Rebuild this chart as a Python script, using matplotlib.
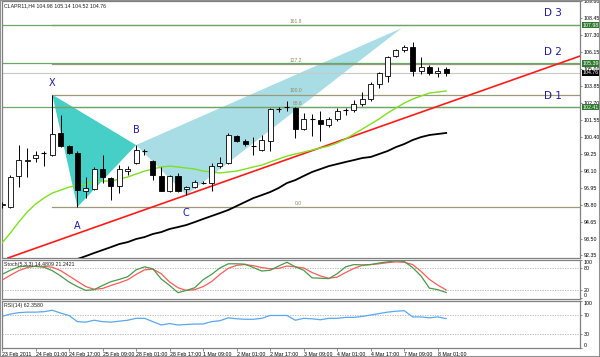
import matplotlib.pyplot as plt
from matplotlib.patches import Rectangle, Polygon

plt.rcParams['font.family'] = ['Liberation Sans Narrow', 'Liberation Sans', 'DejaVu Sans']

# H4 candles, bar 0 .. 53
opens = [95.78, 95.64, 97.75, 98.76, 98.97, 99.28, 99.17, 100.67, 99.78, 99.31,
         96.73, 96.86, 98.22, 97.61, 97.07, 98.08, 98.63, 99.44, 98.76, 97.75,
         96.73, 97.75, 96.86, 97.00, 97.31, 97.27, 98.42, 98.63, 100.46, 100.12,
         99.81, 99.51, 100.12, 102.30, 102.43, 102.36, 100.94, 101.62, 101.55, 101.21,
         101.62, 102.20, 102.23, 102.63, 102.97, 103.99, 104.53, 105.89, 106.30, 106.51,
         104.87, 105.15, 104.74, 104.98]
highs = [95.98, 97.81, 99.85, 99.65, 99.44, 99.44, 103.27, 101.89, 99.85, 99.44,
         97.68, 98.36, 99.17, 97.68, 98.49, 98.42, 99.85, 99.58, 98.83, 98.36,
         97.81, 97.95, 97.07, 97.47, 97.40, 98.63, 99.04, 100.67, 100.53, 100.26,
         100.39, 100.53, 102.36, 102.43, 102.84, 102.43, 102.02, 101.95, 102.16, 101.75,
         102.36, 102.36, 102.91, 103.45, 104.13, 104.81, 105.89, 106.37, 106.64, 106.84,
         105.82, 105.28, 105.15, 105.14]
lows = [95.57, 95.57, 97.00, 97.68, 98.70, 98.42, 99.10, 99.71, 99.24, 95.64,
        96.25, 96.80, 97.27, 96.12, 96.59, 97.81, 98.56, 99.17, 97.47, 96.73,
        96.66, 96.66, 96.46, 96.93, 97.20, 96.73, 98.29, 98.56, 100.05, 99.78,
        99.17, 99.44, 99.44, 102.09, 102.16, 100.32, 100.87, 100.46, 100.12, 101.07,
        101.48, 101.89, 102.09, 102.50, 102.84, 103.72, 104.13, 105.82, 106.17, 104.53,
        104.67, 104.60, 104.47, 104.52]
closes = [95.85, 97.68, 98.83, 98.83, 99.17, 99.31, 100.60, 99.78, 99.31, 96.80,
          96.93, 98.22, 97.68, 97.07, 98.22, 98.22, 99.51, 99.42, 97.81, 96.73,
          97.75, 96.73, 97.00, 97.34, 97.27, 98.42, 98.63, 100.53, 100.12, 99.92,
          99.78, 100.19, 102.30, 102.33, 102.45, 100.94, 101.62, 101.64, 101.28, 101.62,
          102.16, 102.24, 102.63, 102.97, 103.99, 104.74, 105.82, 106.30, 106.51, 104.87,
          105.15, 104.74, 104.87, 104.76]

# moving averages
ma_fast = [93.20, 93.88, 94.62, 95.30, 95.84, 96.25, 96.59, 96.79, 96.99, 97.13,
           97.19, 97.34, 97.40, 97.40, 97.54, 97.68, 97.88, 98.08, 98.22, 98.36,
           98.42, 98.36, 98.29, 98.22, 98.08, 98.02, 97.95, 98.02, 98.08, 98.22,
           98.36, 98.49, 98.70, 98.90, 99.10, 99.24, 99.37, 99.51, 99.65, 99.78,
           99.99, 100.26, 100.60, 100.94, 101.28, 101.62, 102.02, 102.36, 102.70, 102.97,
           103.18, 103.38, 103.45, 103.52]
ma_slow_start = 8
ma_slow = [91.91, 92.11, 92.31, 92.52, 92.72, 92.92, 93.13, 93.26, 93.47, 93.60,
           93.81, 93.94, 94.15, 94.28, 94.42, 94.62, 94.83, 95.03, 95.23, 95.44,
           95.71, 95.98, 96.25, 96.45, 96.66, 96.93, 97.27, 97.47, 97.75, 98.02,
           98.22, 98.42, 98.56, 98.70, 98.83, 98.97, 99.04, 99.24, 99.44, 99.71,
           99.92, 100.19, 100.39, 100.53, 100.60, 100.67]

# Stochastic (5,3,3) main / signal, RSI(14)
stoch_main = [62, 73, 82, 84, 83, 81, 72, 58, 42, 30, 20, 22, 33, 43, 49, 56, 74, 82,
              77, 50, 33, 14, 20, 27, 48, 62, 79, 90, 90, 89, 80, 71, 73, 84, 94, 82,
              73, 53, 52, 51, 64, 82, 88, 87, 88, 92, 95, 98, 96, 80, 58, 26, 22, 14.48]
stoch_signal = [47, 60, 72, 80, 84, 83, 81, 72, 58, 44, 30, 23, 25, 33, 40, 48, 62, 74,
                76, 64, 42, 27, 20, 22, 30, 43, 62, 78, 86, 88, 85, 80, 77, 78, 84, 82,
                79, 67, 58, 52, 55, 67, 78, 86, 88, 90, 93, 95, 94, 88, 70, 49, 34, 21.24]
rsi = [67, 72, 75, 76, 76, 77, 80, 74, 69, 56, 55, 59, 56, 55, 57, 59, 63, 63,
       56, 49, 52, 49, 50, 51, 51, 56, 58, 64, 62, 61, 61, 63, 69, 69, 69, 59,
       63, 62, 60, 63, 63, 65, 65, 67, 70, 73, 76, 78, 79, 66, 66, 64, 66, 62.36]

date_labels = ['23 Feb 2011', '24 Feb 01:00', '24 Feb 17:00', '25 Feb 09:00',
               '28 Feb 01:00', '28 Feb 17:00', '1 Mar 09:00', '2 Mar 01:00',
               '2 Mar 17:00', '3 Mar 09:00', '4 Mar 01:00', '4 Mar 17:00',
               '7 Mar 09:00', '8 Mar 01:00']
price_ticks = [109.60, 108.45, 107.30, 106.15, 105.00, 103.85, 102.70, 101.55,
               100.40, 99.25, 98.10, 96.95, 95.80, 94.65, 93.50, 92.35]

# harmonic pattern points (bar, price)
pat_names = ['X', 'A', 'B', 'C', 'D']
pat_bars = [6, 9, 16, 22, 47.7]
pat_prices = [103.27, 95.64, 99.85, 96.45, 107.79]
fib_ratios = [0.0, 88.6, 100.0, 127.2, 161.8]
target_levels = [107.98, 105.39, 102.41]
target_names = ['D 3', 'D 2', 'D 1']
trend_bars = [33.17, 68.97]
trend_prices = [98.70, 105.89]
last_price = 104.76

W, H = 600, 357
fig = plt.figure(figsize=(6, 3.57), dpi=100)


def px_axes(x0, y0, x1, y1):
    return fig.add_axes([x0 / W, 1 - y1 / H, (x1 - x0) / W, (y1 - y0) / H])


ax = px_axes(2, 1, 580, 258)
ax_st = px_axes(2, 259.5, 580, 298.5)
ax_rsi = px_axes(2, 300.75, 580, 348.25)

xmax = 68.97
fs = 3.8
grid_col = '#808080'
for a in (ax, ax_st, ax_rsi):
    a.set_xlim(0, xmax)
    for s in a.spines.values():
        s.set_color(grid_col)
        s.set_linewidth(0.9)
    a.yaxis.tick_right()
    a.tick_params(axis='y', labelsize=fs, length=1.6, width=0.5, color='#606060', pad=0.8)
    a.set_xticks([])

# ---- main chart ----
ax.set_ylim(92.18, 109.63)
ax.set_yticks(price_ticks)
ax.set_yticklabels(['%.2f' % v for v in price_ticks])

# harmonic triangles
xab = list(zip(pat_bars[:3], pat_prices[:3]))
bcd = list(zip(pat_bars[2:], pat_prices[2:]))
ax.add_patch(Polygon(xab, closed=True, facecolor='#45cfc6', edgecolor='none', zorder=1))
ax.add_patch(Polygon(bcd, closed=True, facecolor='#a9dde6', edgecolor='none', zorder=1))

# fibonacci levels (from X to the right)
xa = pat_prices[0] - pat_prices[1]
for r in fib_ratios:
    lvl = pat_prices[1] + r / 100 * xa
    ax.plot([pat_bars[0], xmax], [lvl, lvl], color='#9a9a7a', lw=0.9, zorder=2)
    ax.text(35.8, lvl + 0.08, '%.1f' % r, fontsize=3.6, color='#8a8a60',
            ha='right', va='bottom', zorder=3)

# target horizontal lines
for lvl in target_levels:
    ax.axhline(lvl, color='#6aa86a', lw=0.9, zorder=2)
ax.axhline(last_price, color='#c8c8c8', lw=0.8, zorder=2)

# trend line and moving averages
ax.axline((trend_bars[0], trend_prices[0]), (trend_bars[1], trend_prices[1]),
          color='#ff1a1a', lw=1.2, zorder=3)
ax.plot(range(len(ma_fast)), ma_fast, color='#7ee01e', lw=1.0, zorder=3)
ax.plot(range(ma_slow_start, ma_slow_start + len(ma_slow)), ma_slow,
        color='black', lw=1.3, zorder=3)

# candles
bw = 0.6
for i, (o, h, l, c) in enumerate(zip(opens, highs, lows, closes)):
    ax.vlines(i, l, h, color='black', lw=0.7, zorder=4)
    body = abs(c - o)
    if body < 0.05:
        ax.hlines((o + c) / 2, i - bw / 2, i + bw / 2, color='black', lw=0.8, zorder=5)
    else:
        ax.add_patch(Rectangle((i - bw / 2, min(o, c)), bw, body,
                               facecolor='white' if c > o else 'black',
                               edgecolor='black', lw=0.6, zorder=5))

# pattern point labels
offs = {'X': (0, 5), 'A': (0, -10), 'B': (0, 7), 'C': (0, -9)}
for name, b, p in zip(pat_names, pat_bars, pat_prices):
    if name in offs:
        ax.annotate(name, (b, p), xytext=offs[name], textcoords='offset points',
                    ha='center', va='bottom' if offs[name][1] > 0 else 'top',
                    fontsize=7, color='#1c1ca8', family='DejaVu Sans', zorder=6)

target_label_y = [108.81, 106.16, 103.18]
for name, y in zip(target_names, target_label_y):
    ax.text(65.75, y, name, fontsize=7.5, color='#1c1ca8', ha='center', va='center',
            family='DejaVu Sans')

# price tags on the right axis
for lvl, bg in [(target_levels[0], '#2f7a2f'), (target_levels[1], '#2f7a2f'),
                (last_price, 'black'), (target_levels[2], '#2f7a2f')]:
    ax.annotate('%.2f' % lvl, xy=(1.0, lvl), xycoords=('axes fraction', 'data'),
                xytext=(1.6, 0), textcoords='offset points', fontsize=fs,
                color='white', va='center', ha='left', annotation_clip=False,
                bbox=dict(boxstyle='square,pad=0.12', facecolor=bg, edgecolor='none'))

ax.text(0.004, 0.993, 'CLAPR11,H4 104.98 105.14 104.52 104.76', transform=ax.transAxes,
        fontsize=fs, va='top', ha='left', color='#202020')

# ---- stochastic ----
ax_st.set_ylim(-1.3, 101.3)
ax_st.set_yticks([100, 80, 20, 0])
for lvl in (80, 20):
    ax_st.axhline(lvl, color='#b0b0b0', lw=0.6, ls=(0, (1.5, 1.5)))
ax_st.plot(range(len(stoch_signal)), stoch_signal, color='#ff5a5a', lw=0.9)
ax_st.plot(range(len(stoch_main)), stoch_main, color='#4a9a4a', lw=0.9)
ax_st.text(0.004, 0.93, 'Stoch(5,3,3) 14.4809 21.2421', transform=ax_st.transAxes,
           fontsize=fs, va='top', ha='left', color='#202020')

# ---- RSI ----
ax_rsi.set_ylim(0, 100)
ax_rsi.set_yticks([100, 70, 30, 0])
for lvl in (70, 30):
    ax_rsi.axhline(lvl, color='#b0b0b0', lw=0.6, ls=(0, (1.5, 1.5)))
ax_rsi.plot(range(len(rsi)), rsi, color='#58a8f0', lw=0.9)
ax_rsi.text(0.004, 0.95, 'RSI(14) 62.3580', transform=ax_rsi.transAxes,
            fontsize=fs, va='top', ha='left', color='#202020')

# keep the edge labels of the small panels inside their panel
for a in (ax_st, ax_rsi):
    lbls = a.get_yticklabels()
    lbls[0].set_va('top')
    lbls[-1].set_va('bottom')

ax_rsi.set_xticks(range(0, 4 * len(date_labels), 4))
ax_rsi.set_xticklabels(date_labels, ha='left')
ax_rsi.tick_params(axis='x', labelsize=fs, length=2, width=0.5, color='#606060', pad=1)

# outer frame
fig.patches.append(Rectangle((0, 0), 1, 1, transform=fig.transFigure, fill=False,
                             edgecolor='#909090', lw=1.5))

fig.savefig('out.png', dpi=100)
